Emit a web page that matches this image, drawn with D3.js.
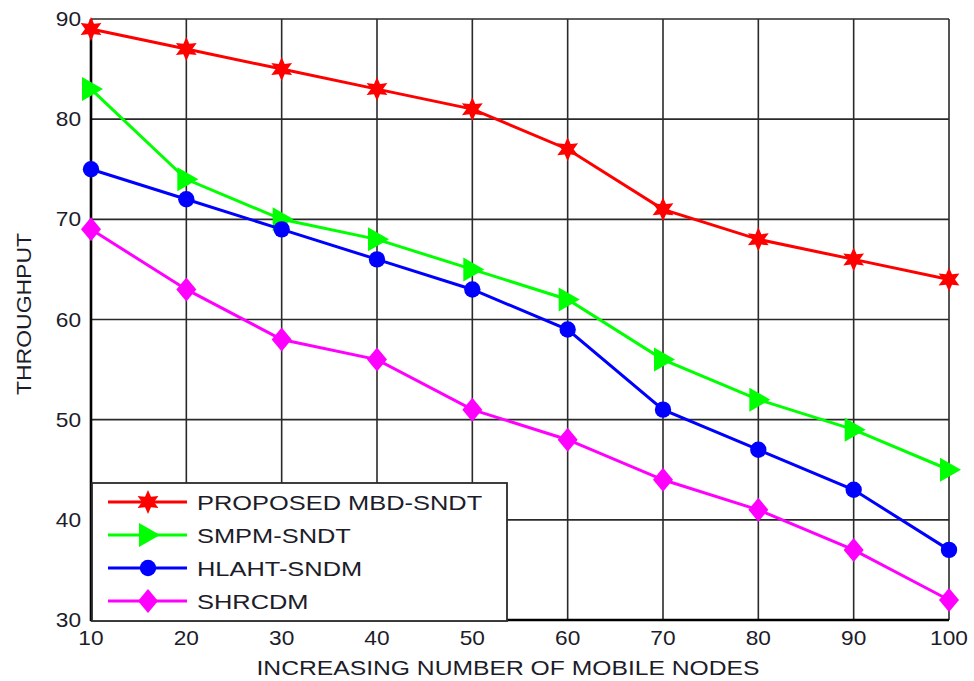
<!DOCTYPE html>
<html>
<head>
<meta charset="utf-8">
<script src="https://cdn.jsdelivr.net/npm/d3@7"></script>
<style>
  body { margin: 0; background: #fff; }
  text { font-family: "Liberation Sans", Arial, sans-serif; fill: #1c1c2a; }
</style>
</head>
<body>
<div id="target"></div>
<script>
let nodes = [10, 20, 30, 40, 50, 60, 70, 80, 90, 100]
let xTicks = [10, 20, 30, 40, 50, 60, 70, 80, 90, 100]
let yTicks = [30, 40, 50, 60, 70, 80, 90]

let proposed = [89, 87, 85, 83, 81, 77, 71, 68, 66, 64]
let smpm = [83, 74, 70, 68, 65, 62, 56, 52, 49, 45]
let hlaht = [75, 72, 69, 66, 63, 59, 51, 47, 43, 37]
let shrcdm = [69, 63, 58, 56, 51, 48, 44, 41, 37, 32]

let seriesNames = ["PROPOSED MBD-SNDT", "SMPM-SNDT", "HLAHT-SNDM", "SHRCDM"]

let width = 974,
  height = 681,
  margin = { top: 19, right: 25, bottom: 61, left: 91 }

let series = [
  { name: seriesNames[0], values: proposed, color: "#ff0000", marker: "star" },
  { name: seriesNames[1], values: smpm, color: "#00ff00", marker: "tri" },
  { name: seriesNames[2], values: hlaht, color: "#0000ff", marker: "circle" },
  { name: seriesNames[3], values: shrcdm, color: "#ff00ff", marker: "diamond" }
]

let svg = d3.select("#target").append("svg")
  .attr("width", width)
  .attr("height", height)

let x = d3.scaleLinear().domain([10, 100]).range([margin.left, width - margin.right])
let y = d3.scaleLinear().domain([30, 90]).range([height - margin.bottom, margin.top])

// stretch text a bit wider, like the source image
function stretch(sel, k) {
  sel.each(function () {
    let len = this.getComputedTextLength()
    d3.select(this).attr("textLength", len * k).attr("lengthAdjust", "spacingAndGlyphs")
  })
}

// grid
svg.append("g").selectAll("line")
  .data(xTicks)
  .enter().append("line")
  .attr("x1", d => x(d)).attr("x2", d => x(d))
  .attr("y1", y(30)).attr("y2", y(90))
  .attr("stroke", "#2a2a2a").attr("stroke-width", 1.6)

svg.append("g").selectAll("line")
  .data(yTicks)
  .enter().append("line")
  .attr("x1", x(10)).attr("x2", x(100))
  .attr("y1", d => y(d)).attr("y2", d => y(d))
  .attr("stroke", "#2a2a2a").attr("stroke-width", 1.6)

// axes (left/bottom heavier)
svg.append("line")
  .attr("x1", x(10)).attr("x2", x(10))
  .attr("y1", y(30) + 1).attr("y2", y(90))
  .attr("stroke", "#000").attr("stroke-width", 2.6)
svg.append("line")
  .attr("x1", x(10) - 1).attr("x2", x(100))
  .attr("y1", y(30)).attr("y2", y(30))
  .attr("stroke", "#000").attr("stroke-width", 2.6)

// tick labels
svg.append("g").selectAll("text")
  .data(yTicks)
  .enter().append("text")
  .attr("x", x(10) - 10)
  .attr("y", d => y(d) + 7)
  .attr("text-anchor", "end")
  .style("font-size", "21px")
  .text(d => d)
  .call(stretch, 1.08)

svg.append("g").selectAll("text")
  .data(xTicks)
  .enter().append("text")
  .attr("x", d => x(d))
  .attr("y", y(30) + 25)
  .attr("text-anchor", "middle")
  .style("font-size", "21px")
  .text(d => d)
  .call(stretch, 1.08)

// axis titles
svg.append("text")
  .attr("x", 508)
  .attr("y", 675)
  .attr("text-anchor", "middle")
  .style("font-size", "20px")
  .text("INCREASING NUMBER OF MOBILE NODES")
  .attr("textLength", 503)
  .attr("lengthAdjust", "spacingAndGlyphs")

svg.append("text")
  .attr("transform", "translate(31,314) rotate(-90)")
  .attr("text-anchor", "middle")
  .style("font-size", "20px")
  .text("THROUGHPUT")
  .attr("textLength", 162)
  .attr("lengthAdjust", "spacingAndGlyphs")

// marker shapes
function star6(r) {
  let pts = []
  for (let i = 0; i < 12; i++) {
    let a = -Math.PI / 2 + i * Math.PI / 6
    let rr = i % 2 === 0 ? r : r * 0.5
    pts.push([rr * Math.cos(a), rr * Math.sin(a)])
  }
  return "M" + pts.join("L") + "Z"
}
let markerPath = {
  star: star6(12),
  tri: "M-9,-12L12,0L-9,12Z",
  circle: d3.symbol(d3.symbolCircle, 210)(),
  diamond: "M0,-12L10,0L0,12L-10,0Z"
}

let line = d3.line()
  .x((d, i) => x(nodes[i]))
  .y(d => y(d))

series.forEach(s => {
  let g = svg.append("g")
  g.append("path")
    .attr("d", line(s.values))
    .attr("fill", "none")
    .attr("stroke", s.color)
    .attr("stroke-width", 3)
  g.selectAll("path.m")
    .data(s.values)
    .enter().append("path")
    .attr("class", "m")
    .attr("d", markerPath[s.marker])
    .attr("transform", (d, i) => "translate(" + x(nodes[i]) + "," + y(d) + ")")
    .attr("fill", s.color)
})

// legend
let legend = svg.append("g")
legend.append("rect")
  .attr("x", 92).attr("y", 483)
  .attr("width", 415).attr("height", 138)
  .attr("fill", "#fff")
  .attr("stroke", "#2a2a2a").attr("stroke-width", 1.8)

series.forEach((s, i) => {
  let ly = 502 + i * 33
  legend.append("line")
    .attr("x1", 108).attr("x2", 187)
    .attr("y1", ly).attr("y2", ly)
    .attr("stroke", s.color).attr("stroke-width", 3)
  legend.append("path")
    .attr("d", markerPath[s.marker])
    .attr("transform", "translate(148," + ly + ")")
    .attr("fill", s.color)
  legend.append("text")
    .attr("x", 197)
    .attr("y", ly + 8)
    .style("font-size", "21px")
    .text(s.name)
    .call(stretch, 1.21)
})
</script>
</body>
</html>
